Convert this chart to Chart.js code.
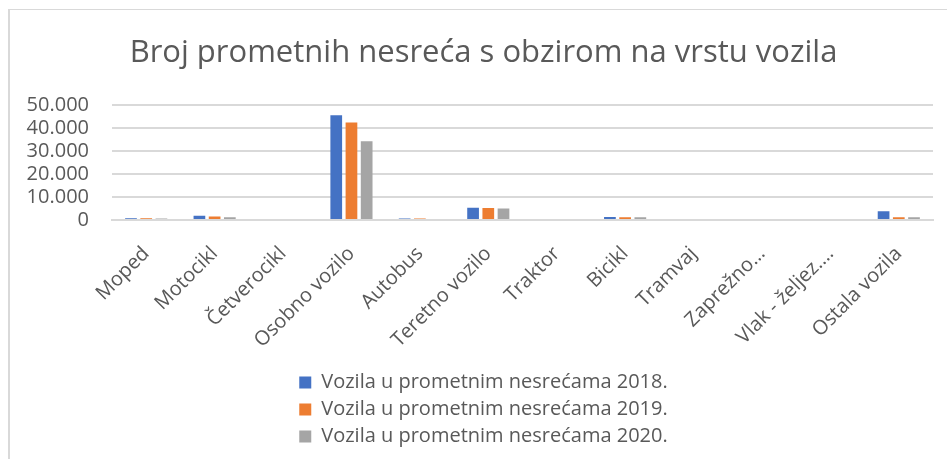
<!DOCTYPE html>
<html>
<head>
<meta charset="utf-8">
<title>Broj prometnih nesreća s obzirom na vrstu vozila</title>
<script src="https://cdn.jsdelivr.net/npm/chart.js@4.4.1/dist/chart.umd.min.js"></script>
<style>
    html, body { margin: 0; padding: 0; overflow: hidden; background: #fff; }
    #okvir {
        position: absolute; left: 8px; top: 9px;
        width: 960px; height: 470px;
        border-top: 1px solid #d9d9d9;
        border-left: 2px solid #d9d9d9;
    }
    #graf { position: absolute; left: 0; top: 0; }
</style>
</head>
<body>
<div id="okvir">
    <canvas id="graf" width="947" height="450"></canvas>
</div>
<script>
var kategorije = ['Moped', 'Motocikl', 'Četverocikl', 'Osobno vozilo', 'Autobus', 'Teretno vozilo',
    'Traktor', 'Bicikl', 'Tramvaj', 'Zaprežno…', 'Vlak - željez.…', 'Ostala vozila'];
// kategorije bez vidljivog stupca u originalu su 0
var vozila2018 = [780, 1800, 0, 45600, 700, 5300, 0, 1350, 0, 0, 0, 3800];
var vozila2019 = [750, 1500, 0, 42500, 650, 5200, 0, 1200, 0, 0, 0, 1200];
var vozila2020 = [600, 1200, 0, 34300, 0, 5000, 0, 1200, 0, 0, 0, 1200];
var yVrijednosti = [0, 10000, 20000, 30000, 40000, 50000];
var yOznake = ['0', '10.000', '20.000', '30.000', '40.000', '50.000'];

var sivaTekst = '#595959';
var sivaLinija = '#d9d9d9';
var font = 'Open Sans';

// legenda u jednom stupcu, kao u Excelu
var legendaStupac = {
    id: 'legendaStupac',
    beforeLayout: function (chart) {
        var legenda = chart.legend;
        if (legenda && !legenda._jedanStupac) {
            var update = legenda.update;
            legenda.update = function (maxWidth, maxHeight, margins) {
                return update.call(this, Math.min(maxWidth, 420), maxHeight, margins);
            };
            legenda._jedanStupac = true;
        }
    }
};

function napraviSeriju(oznaka, podaci, boja)
{
    return {
        label: oznaka,
        data: podaci,
        backgroundColor: boja,
        borderWidth: 0,
        inflateAmount: 0,
        categoryPercentage: 0.667,
        barPercentage: 0.77
    };
}

new Chart(document.getElementById('graf'), {
    type: 'bar',
    data: {
        labels: kategorije,
        datasets: [
            napraviSeriju('Vozila u prometnim nesrećama 2018.', vozila2018, '#4472c4'),
            napraviSeriju('Vozila u prometnim nesrećama 2019.', vozila2019, '#ed7d31'),
            napraviSeriju('Vozila u prometnim nesrećama 2020.', vozila2020, '#a5a5a5')
        ]
    },
    options: {
        responsive: false,
        animation: false,
        devicePixelRatio: 1,
        layout: {
            padding: {left: 0, right: 0, top: 0, bottom: 3.5}
        },
        plugins: {
            title: {
                display: true,
                text: 'Broj prometnih nesreća s obzirom na vrstu vozila',
                color: sivaTekst,
                font: {family: font, size: 31, weight: 'normal'},
                padding: {top: 25, bottom: 33}
            },
            legend: {
                position: 'bottom',
                labels: {
                    color: sivaTekst,
                    font: {family: font, size: 20},
                    boxWidth: 12,
                    boxHeight: 12,
                    padding: 7
                }
            },
            tooltip: {enabled: false}
        },
        scales: {
            x: {
                grid: {display: false},
                border: {display: true, color: sivaLinija, width: 2},
                ticks: {
                    color: sivaTekst,
                    font: {family: font, size: 20},
                    autoSkip: false,
                    minRotation: 45,
                    maxRotation: 45,
                    padding: 14
                },
                afterFit: function (scale) {
                    scale.height = 145.5;
                }
            },
            y: {
                min: 0,
                max: 50000,
                border: {display: false},
                grid: {color: sivaLinija, lineWidth: 2, drawTicks: false},
                ticks: {
                    stepSize: 10000,
                    autoSkip: false,
                    color: sivaTekst,
                    font: {family: font, size: 20},
                    padding: 23,
                    callback: function (value) {
                        var i = yVrijednosti.indexOf(value);
                        return i < 0 ? '' : yOznake[i];
                    }
                },
                afterFit: function (scale) {
                    scale.width = 102;
                }
            },
            // prazan desni prostor, da naslov i legenda budu centrirani kao u originalu
            desno: {
                type: 'linear',
                position: 'right',
                grid: {display: false},
                border: {display: false},
                ticks: {display: false},
                afterFit: function (scale) {
                    scale.width = 24;
                }
            }
        }
    },
    plugins: [legendaStupac]
});
</script>
</body>
</html>
